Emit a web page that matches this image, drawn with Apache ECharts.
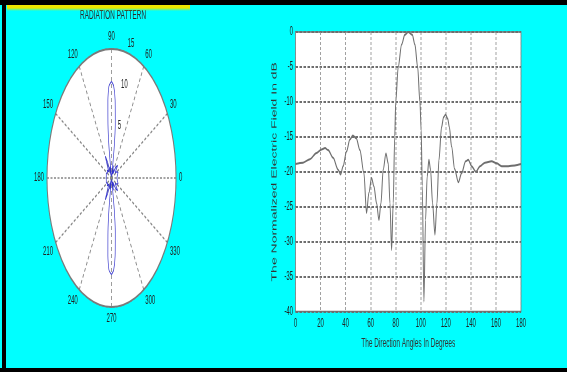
<!DOCTYPE html>
<html>
<head>
<meta charset="utf-8">
<script src="https://cdn.jsdelivr.net/npm/echarts@6/dist/echarts.min.js"></script>
<style>
  html, body { margin: 0; padding: 0; background: #fff; }
  #page { position: relative; width: 567px; height: 372px; overflow: hidden; background: #00ffff; }
  #chart { position: absolute; left: 0; top: 0; width: 1134px; height: 372px; transform: scaleX(0.5); transform-origin: 0 0; }
  .bar { position: absolute; background: #000; z-index: 5; }
  #yellow { position: absolute; left: 7px; top: 5px; width: 183px; height: 6px; z-index: 4;
            background: linear-gradient(#f2e600, #e8e800 50%, rgba(0,255,255,0)); }
</style>
</head>
<body>
<div id="page">
  <div id="chart"></div>
  <div id="yellow"></div>
  <div class="bar" style="left:0;top:0;width:567px;height:5px"></div>
  <div class="bar" style="left:2px;top:0;width:4px;height:372px"></div>
  <div class="bar" style="left:0;top:368px;width:567px;height:4px"></div>
</div>
<script>
// normalized field (dB) vs direction angle
const angleDeg = [0, 6, 11.5, 16.8, 20.8, 23.6, 26, 30, 34, 36, 38, 40.7, 43.4, 45.8, 48.5, 51.4,
  54.6, 56.7, 58.6, 60.7, 62.6, 64.7, 66.6, 68.2, 70, 72.2, 74, 75.4, 76.7, 78, 79.2, 80,
  82, 84.7, 87.3, 90, 93.2, 95.3, 97.5, 99.3, 100.3, 101.2, 102.5, 103.8, 105.1, 106.5,
  107.8, 109.4, 111.3, 112.9, 114.5, 116.6, 118.2, 119.8, 121.5, 122.8, 124.6, 127, 130, 132.6, 135.8,
  137.9, 140.6, 144, 147.3, 151.2, 156.5, 160.5, 164.5, 169.9, 175.1, 180];
const fieldDb = [-18.9, -18.7, -18.2, -17.3, -16.8, -16.6, -16.9, -18, -19.7, -20.4, -19.2, -17.1, -15.4, -14.8, -15.2, -16.9,
  -20.2, -25.9, -23, -20.9, -22.1, -24.5, -26.9, -24.5, -19.7, -17.4, -18.8, -24.5, -31.2, -24.5, -15, -10,
  -5, -1.8, -0.4, 0, -0.4, -1.8, -5, -10, -14, -22, -38.6, -26.9, -20.7, -18.3,
  -19.7, -24.5, -29, -24.5, -18.3, -13.6, -12.2, -11.8, -12.4, -13.6, -16.4, -19.6, -21.5, -20.2, -18.5,
  -18.3, -19.2, -20, -19.2, -18.7, -18.5, -18.8, -19.2, -19.2, -19.1, -18.9];

// polar trace (linear magnitude), 0..180 deg; the pattern is mirrored for 180..360
const polarAng = [0, 11.5, 23.6, 30, 36, 45.8, 51.4, 56.7, 60.7, 66.6, 72.2, 76.7, 80, 82, 84.7, 87.3,
  90, 93.2, 95.3, 97.5, 99.3, 102.5, 106.5, 111.3, 116.6, 119.6, 125.1, 130, 137.9, 144, 156.5, 170, 180];
const polarR = [1.27, 1.38, 1.66, 1.41, 1.07, 2.04, 1.6, 0.57, 1.01, 0.5, 1.51, 0.31, 3.54, 6.3, 9.1, 10.7,
  11.2, 10.7, 9.1, 6.3, 3.54, 0.13, 1.36, 0.4, 2.1, 2.92, 1.53, 0.94, 1.36, 1.12, 1.33, 1.23, 1.27];
const radiusTicks = [5, 10, 15];

const lineData = angleDeg.map((a, i) => [a, fieldDb[i]]);
const polarData = polarAng.map((a, i) => [polarR[i], a]);
for (let i = polarAng.length - 2; i >= 0; i--) {
    polarData.push([polarR[i], 360 - polarAng[i]]);
}

const font = 'Liberation Sans';
const dotted = { type: [4, 3], color: '#858585', width: 1.6 };

const chart = echarts.init(document.getElementById('chart'));
chart.setOption({
    animation: false,
    textStyle: { fontFamily: font },
    title: {
        text: 'RADIATION PATTERN',
        left: 221,
        top: 4,
        textAlign: 'center',
        textStyle: { fontSize: 13, fontWeight: 'normal', color: '#2a2a2a', fontFamily: font },
    },
    polar: [
        { center: [223, 178], radius: 129 },
        { center: [223, 178], radius: 141.7 },
    ],
    angleAxis: [
        {
            polarIndex: 0,
            type: 'value',
            min: 0,
            max: 360,
            interval: 30,
            startAngle: 0,
            clockwise: false,
            axisLine: { lineStyle: { color: '#7a7a7a', width: 2 } },
            axisTick: { show: false },
            axisLabel: {
                margin: 6,
                fontSize: 12,
                color: '#222',
                formatter: (v) => (v === 360 ? '' : String(v)),
            },
            splitLine: { lineStyle: dotted },
        },
        {
            polarIndex: 1,
            type: 'value',
            min: 0,
            max: 360,
            startAngle: 72,
            clockwise: false,
            axisLine: { show: false },
            axisTick: { show: false },
            axisLabel: { show: false },
            splitLine: { show: false },
        },
    ],
    radiusAxis: [
        {
            polarIndex: 0,
            type: 'value',
            min: 0,
            max: 15,
            interval: 5,
            axisLine: { show: false },
            axisTick: { show: false },
            axisLabel: { show: false },
            splitLine: { lineStyle: dotted },
            splitArea: { show: true, areaStyle: { color: ['#ffffff'] } },
        },
        {
            polarIndex: 1,
            type: 'value',
            min: -1.5,
            max: 15,
            axisLine: { show: false },
            axisTick: { show: false },
            splitLine: { show: false },
            axisLabel: { customValues: radiusTicks, fontSize: 12, color: '#222', margin: -2 },
        },
    ],
    grid: {
        left: 591,
        top: 32,
        width: 451,
        height: 279.5,
        show: true,
        backgroundColor: '#ffffff',
        borderColor: '#777',
        borderWidth: 1.5,
    },
    xAxis: {
        type: 'value',
        min: 0,
        max: 180,
        interval: 20,
        name: 'The Direction Angles In Degrees',
        nameLocation: 'middle',
        nameGap: 25,
        nameTextStyle: { fontSize: 13, color: '#333' },
        axisLine: { show: false },
        axisTick: { show: false },
        axisLabel: { margin: 6, fontSize: 12, color: '#222' },
        splitLine: { lineStyle: { type: [3, 2], color: '#8a8a8a', width: 1.6 } },
    },
    yAxis: {
        type: 'value',
        min: -40,
        max: 0,
        interval: 5,
        name: 'The Normalized Electric Field In dB',
        nameLocation: 'middle',
        nameGap: 35,
        nameTextStyle: { fontSize: 14, color: '#333' },
        axisLine: { show: false },
        axisTick: { show: false },
        axisLabel: { margin: 5, fontSize: 12, color: '#222' },
        splitLine: { lineStyle: { type: [5, 3], color: '#6e6e6e', width: 1.8 } },
    },
    series: [
        {
            type: 'line',
            coordinateSystem: 'polar',
            polarIndex: 0,
            data: polarData,
            symbol: 'none',
            smooth: 0.2,
            lineStyle: { color: '#3434cc', width: 1.3 },
        },
        {
            type: 'line',
            data: lineData,
            symbol: 'none',
            smooth: 0.3,
            smoothMonotone: 'x',
            lineStyle: { color: '#6e6e6e', width: 2 },
        },
    ],
});
</script>
</body>
</html>
